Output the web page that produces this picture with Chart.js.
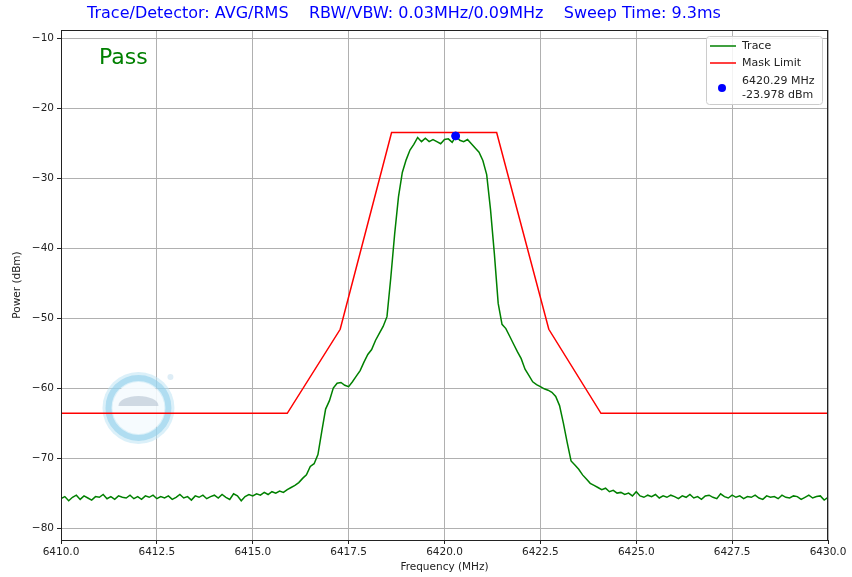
<!DOCTYPE html>
<html>
<head>
<meta charset="utf-8">
<script src="https://cdn.jsdelivr.net/npm/chart.js@4.4.1/dist/chart.umd.min.js"></script>
<style>
  html, body { margin: 0; padding: 0; background: #ffffff; }
  #wrap { width: 852px; height: 577px; position: relative; }
</style>
</head>
<body>
<div id="wrap"><canvas id="c" width="852" height="577"></canvas></div>
<script>
// ---------------- data ----------------
const titleText = "Trace/Detector: AVG/RMS    RBW/VBW: 0.03MHz/0.09MHz    Sweep Time: 9.3ms";
const statusText = "Pass";
const xTickValues = [6410.0, 6412.5, 6415.0, 6417.5, 6420.0, 6422.5, 6425.0, 6427.5, 6430.0];
const yTickValues = [-80, -70, -60, -50, -40, -30, -20, -10];
const freqStart = 6410.0;   // MHz, sweep start
const freqStep = 0.1;       // MHz, trace point spacing
const tracePower = [
  -75.8, -75.5, -76.1, -75.6, -75.3, -75.9, -75.4, -75.7, -76.0, -75.5,
  -75.6, -75.2, -75.8, -75.5, -75.9, -75.4, -75.6, -75.7, -75.3, -75.8,
  -75.5, -75.9, -75.4, -75.6, -75.3, -75.8, -75.5, -75.7, -75.4, -75.9,
  -75.6, -75.2, -75.7, -75.5, -76.0, -75.4, -75.6, -75.3, -75.8, -75.5,
  -75.3, -75.7, -75.2, -75.6, -75.9, -75.1, -75.4, -76.1, -75.5, -75.2,
  -75.4, -75.1, -75.3, -74.9, -75.2, -74.8, -75.0, -74.7, -74.9, -74.5,
  -74.2, -73.9, -73.5, -72.9, -72.4, -71.2, -70.8, -69.5, -66.2, -63.0,
  -61.8, -60.0, -59.3, -59.2, -59.6, -59.8, -59.1, -58.3, -57.5, -56.3,
  -55.2, -54.5, -53.2, -52.2, -51.2, -49.8, -44.2, -38.0, -32.7, -29.2,
  -27.4, -26.0, -25.2, -24.2, -24.8, -24.3, -24.8, -24.5, -24.8, -25.1,
  -24.5, -24.4, -24.9, -24.0, -24.6, -24.8, -24.5, -25.1, -25.7, -26.3,
  -27.5, -29.5, -34.5, -40.8, -47.9, -50.9, -51.5, -52.6, -53.7, -54.8,
  -55.8, -57.3, -58.2, -59.1, -59.5, -59.8, -60.1, -60.3, -60.6, -61.2,
  -62.5, -65.0, -67.8, -70.4, -71.0, -71.6, -72.4, -73.0, -73.6, -73.9,
  -74.2, -74.5, -74.3, -74.8, -74.6, -75.0, -74.9, -75.2, -75.0, -75.4,
  -74.8, -75.4, -75.6, -75.3, -75.5, -75.2, -75.7, -75.4, -75.6, -75.3,
  -75.5, -75.8, -75.4, -75.6, -75.2, -75.7, -75.5, -75.9, -75.4, -75.3,
  -75.6, -75.8, -75.1, -75.5, -75.7, -75.3, -75.6, -75.4, -75.8, -75.5,
  -75.6, -75.3, -75.7, -75.9, -75.4, -75.6, -75.5, -75.8, -75.3, -75.6,
  -75.7, -75.4, -75.5, -75.9, -75.6, -75.3, -75.7, -75.5, -75.4, -76.0,
  -75.6
];
const maskFreq = [6410.0, 6415.9, 6417.28, 6418.62, 6421.36, 6422.72, 6424.08, 6430.0];
const maskPower = [-63.6, -63.6, -51.6, -23.5, -23.5, -51.6, -63.6, -63.6];
const markerFreq = [6420.29];
const markerPower = [-23.978];
const legendLabels = ["Trace", "Mask Limit", "6420.29 MHz\n-23.978 dBm"];

// ---------------- build datasets ----------------
const traceData = tracePower.map((p, i) => ({ x: +(freqStart + i * freqStep).toFixed(2), y: p }));
const maskData = maskFreq.map((f, i) => ({ x: f, y: maskPower[i] }));
const markerData = markerFreq.map((f, i) => ({ x: f, y: markerPower[i] }));

const FONT = "'DejaVu Sans', sans-serif";
const fmtMinus = v => (v < 0 ? "\u2212" + Math.abs(v) : String(v));

const decorPlugin = {
  id: 'decor',
  beforeDatasetsDraw(chart) {
    const ctx = chart.ctx;
    const a = chart.chartArea;
    // faint watermark logo
    ctx.save();
    const cx = a.left + (a.right - a.left) * 0.101, cy = a.top + (a.bottom - a.top) * 0.741;
    ctx.beginPath(); ctx.arc(cx, cy, 36, 0, Math.PI * 2);
    ctx.fillStyle = 'rgba(190,228,244,0.55)'; ctx.fill();
    ctx.beginPath(); ctx.arc(cx, cy, 26, 0, Math.PI * 2);
    ctx.fillStyle = 'rgba(255,255,255,0.75)'; ctx.fill();
    ctx.beginPath(); ctx.arc(cx, cy, 30, 0, Math.PI * 2);
    ctx.lineWidth = 6; ctx.strokeStyle = 'rgba(140,205,235,0.55)'; ctx.stroke();
    ctx.beginPath(); ctx.ellipse(cx, cy - 2, 20, 10, 0, Math.PI, 0);
    ctx.fillStyle = 'rgba(175,190,205,0.55)'; ctx.fill();
    ctx.beginPath(); ctx.arc(cx + 32, cy - 31, 3, 0, Math.PI * 2);
    ctx.fillStyle = 'rgba(200,225,240,0.6)'; ctx.fill();
    ctx.restore();
  },
  afterDraw(chart) {
    const ctx = chart.ctx;
    const a = chart.chartArea;
    ctx.save();
    // box spines
    ctx.strokeStyle = '#222'; ctx.lineWidth = 1;
    ctx.strokeRect(a.left + 0.5, a.top + 0.5, a.right - a.left - 1, a.bottom - a.top);
    // title
    ctx.fillStyle = '#0000ff';
    ctx.font = "16px " + FONT;
    ctx.textBaseline = 'middle'; ctx.textAlign = 'center';
    ctx.fillText(titleText, 404, 14);
    // Pass
    ctx.fillStyle = '#008000';
    ctx.font = "22px " + FONT;
    ctx.textAlign = 'left';
    ctx.fillText(statusText, a.left + 38, a.top + 28);
    // legend
    const lx = 706, ly = 36, lw = 116, lh = 68;
    ctx.beginPath();
    if (ctx.roundRect) ctx.roundRect(lx + 0.5, ly + 0.5, lw, lh, 3); else ctx.rect(lx + 0.5, ly + 0.5, lw, lh);
    ctx.fillStyle = 'rgba(255,255,255,0.85)'; ctx.fill();
    ctx.strokeStyle = '#cccccc'; ctx.lineWidth = 1; ctx.stroke();
    ctx.font = "11px " + FONT; ctx.fillStyle = '#222';
    ctx.textBaseline = 'middle';
    ctx.lineWidth = 1.5;
    ctx.strokeStyle = '#008000';
    ctx.beginPath(); ctx.moveTo(710, 46); ctx.lineTo(736, 46); ctx.stroke();
    ctx.fillText(legendLabels[0], 742, 46);
    ctx.strokeStyle = '#ff0000';
    ctx.beginPath(); ctx.moveTo(710, 63); ctx.lineTo(736, 63); ctx.stroke();
    ctx.fillText(legendLabels[1], 742, 63);
    ctx.fillStyle = '#0000ff';
    ctx.beginPath(); ctx.arc(722, 88, 4, 0, Math.PI * 2); ctx.fill();
    ctx.fillStyle = '#222';
    const lines = legendLabels[2].split("\n");
    ctx.fillText(lines[0], 742, 81);
    ctx.fillText(lines[1], 742, 95);
    ctx.restore();
  }
};

new Chart(document.getElementById('c'), {
  type: 'scatter',
  data: {
    datasets: [
      { label: legendLabels[0], data: traceData, showLine: true, borderColor: '#008000', borderWidth: 1.5, pointRadius: 0, tension: 0, order: 3 },
      { label: legendLabels[1], data: maskData, showLine: true, borderColor: '#ff0000', borderWidth: 1.5, pointRadius: 0, tension: 0, order: 2 },
      { label: legendLabels[2], data: markerData, showLine: false, backgroundColor: '#0000ff', borderColor: '#0000ff', pointRadius: 4, order: 1 }
    ]
  },
  options: {
    responsive: false,
    animation: false,
    devicePixelRatio: 1,
    layout: { padding: { top: 30, right: 24, left: 0, bottom: 0 } },
    plugins: { legend: { display: false }, tooltip: { enabled: false }, title: { display: false } },
    scales: {
      x: {
        type: 'linear', min: 6410, max: 6430,
        afterBuildTicks: s => { s.ticks = xTickValues.map(v => ({ value: v })); },
        afterFit: s => { s.height = 37; },
        ticks: { callback: v => Number(v).toFixed(1), color: '#222', font: { family: FONT, size: 10.5 }, padding: 2, maxRotation: 0, autoSkip: false },
        grid: { color: '#b0b0b0', lineWidth: 1, tickColor: '#222', tickLength: 4 },
        border: { color: '#222', width: 1 },
        title: { display: true, text: 'Frequency (MHz)', color: '#222', font: { family: FONT, size: 10.5 }, padding: { top: 0, bottom: 3 } }
      },
      y: {
        type: 'linear', min: -81.7, max: -8.85,
        afterBuildTicks: s => { s.ticks = yTickValues.map(v => ({ value: v })); },
        afterFit: s => { s.width = 61; },
        ticks: { callback: v => fmtMinus(v), color: '#222', font: { family: FONT, size: 10.5 }, padding: 3, autoSkip: false },
        grid: { color: '#b0b0b0', lineWidth: 1, tickColor: '#222', tickLength: 4 },
        border: { color: '#222', width: 1 },
        title: { display: true, text: 'Power (dBm)', color: '#222', font: { family: FONT, size: 10.5 }, padding: { top: 11, bottom: 0 } }
      }
    }
  },
  plugins: [decorPlugin]
});
</script>
</body>
</html>
